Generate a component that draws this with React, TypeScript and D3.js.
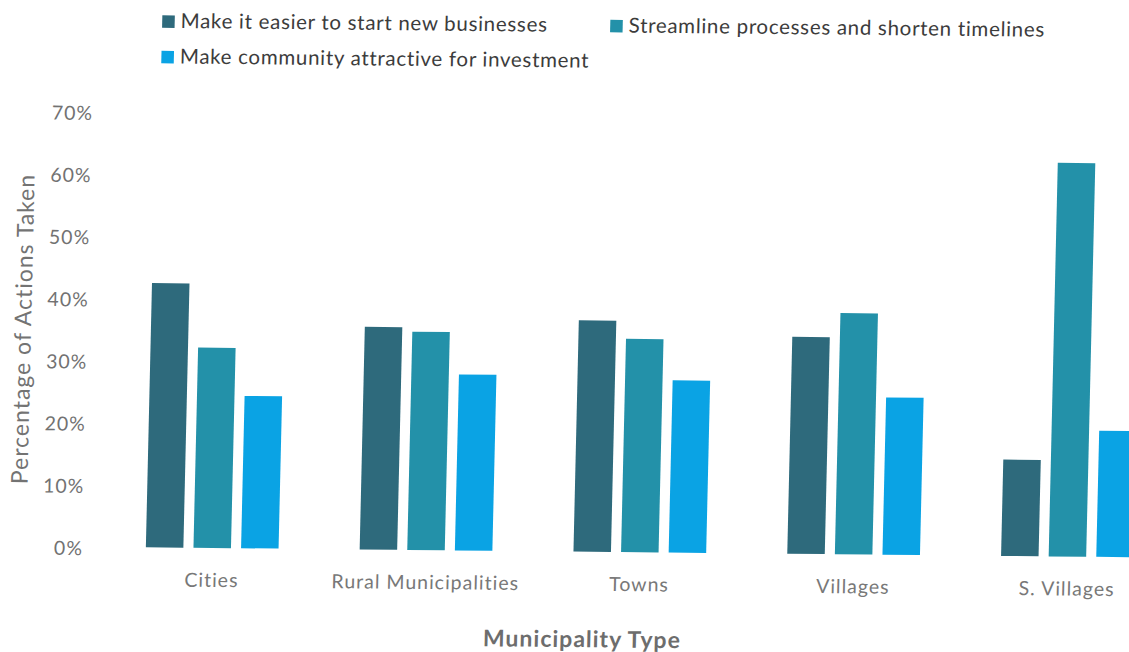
import React, { useEffect } from "react";
import * as d3 from "d3";

const categories = ["Cities", "Rural Municipalities", "Towns", "Villages", "S. Villages"];
const seriesNames = [
  "Make it easier to start new businesses",
  "Streamline processes and shorten timelines",
  "Make community attractive for investment",
];
const easierValues = [42.5, 35.8, 37.2, 34.9, 15.5];
const streamlineValues = [32.2, 35.1, 34.3, 38.8, 63.3];
const attractiveValues = [24.5, 28.3, 27.7, 25.3, 20.3];
const yTicks = [0, 10, 20, 30, 40, 50, 60, 70];
const seriesColors = ["#2e6a7c", "#2391a9", "#0aa3e4"];

const W = 1129;
const H = 652;

// scan distortion of the reference (slight shear)
const SKEW_A = 0.0232; // verticals lean right going up
const SKEW_B = 0.0101; // horizontals slope down going right
const PX = 70;
const PY = 547;

export default function App() {
  useEffect(() => {
    document.body.style.margin = "0";
    document.body.style.overflow = "hidden";
  }, []);

  const seriesValues = [easierValues, streamlineValues, attractiveValues];

  const x0 = d3
    .scaleBand<string>()
    .domain(categories)
    .range([105.3, 1174.3])
    .paddingInner(0.3793)
    .paddingOuter(0.3793 / 2);
  const x1 = d3
    .scaleBand<number>()
    .domain([0, 1, 2])
    .range([0, x0.bandwidth()])
    .paddingInner(0.2122)
    .paddingOuter(0);
  const y = d3.scaleLinear().domain([0, 70]).range([546.5, 111.3]);

  const font = "Lato, 'Open Sans', sans-serif";
  const transform = `matrix(1, ${SKEW_B}, ${-SKEW_A}, 1, ${SKEW_A * PY}, ${-SKEW_B * PX})`;

  const legendPos = [
    { x: 150, y: 14.5 },
    { x: 598, y: 14.5 },
    { x: 150, y: 50 },
  ];

  return (
    <svg
      width={W}
      height={H}
      style={{ position: "absolute", left: 0, top: 0, background: "#fff" }}
      fontFamily={font}
    >
      <rect width={W} height={H} fill="#fff" />
      <g transform={transform}>
        {/* legend */}
        {seriesNames.map((name, i) => (
          <g key={name}>
            <rect
              x={legendPos[i].x}
              y={legendPos[i].y}
              width={12.5}
              height={12.5}
              fill={seriesColors[i]}
            />
            <text
              x={legendPos[i].x + 18.5}
              y={legendPos[i].y + 12.5}
              fontSize={20.5}
              letterSpacing={0.7}
              fill="#3c3c3c"
            >
              {name}
            </text>
          </g>
        ))}

        {/* y tick labels */}
        {yTicks.map((t) => (
          <text
            key={t}
            x={83}
            y={y(t) + 1}
            textAnchor="end"
            dominantBaseline="central"
            fontSize={19.5}
            letterSpacing={1}
            fill="#727272"
          >
            {`${t}%`}
          </text>
        ))}

        {/* bars */}
        {categories.map((c, ci) => (
          <g key={c} transform={`translate(${x0(c)},0)`}>
            {seriesValues.map((vals, si) => (
              <rect
                key={si}
                x={x1(si)}
                y={y(vals[ci])}
                width={x1.bandwidth()}
                height={y(0) - y(vals[ci])}
                fill={seriesColors[si]}
              />
            ))}
          </g>
        ))}

        {/* category labels */}
        {categories.map((c) => (
          <text
            key={c}
            x={(x0(c) as number) + x0.bandwidth() / 2}
            y={578}
            textAnchor="middle"
            dominantBaseline="central"
            fontSize={19.5}
            letterSpacing={1}
            fill="#787878"
          >
            {c}
          </text>
        ))}

        {/* axis titles */}
        <text
          transform={`translate(17,329.5) rotate(-90)`}
          textAnchor="middle"
          dominantBaseline="central"
          fontSize={23}
          letterSpacing={1}
          fill="#737373"
        >
          Percentage of Actions Taken
        </text>
        <text
          x={584}
          y={633}
          textAnchor="middle"
          dominantBaseline="central"
          fontSize={23}
          letterSpacing={1}
          fontWeight={700}
          fill="#6d6d6d"
        >
          Municipality Type
        </text>
      </g>
    </svg>
  );
}
